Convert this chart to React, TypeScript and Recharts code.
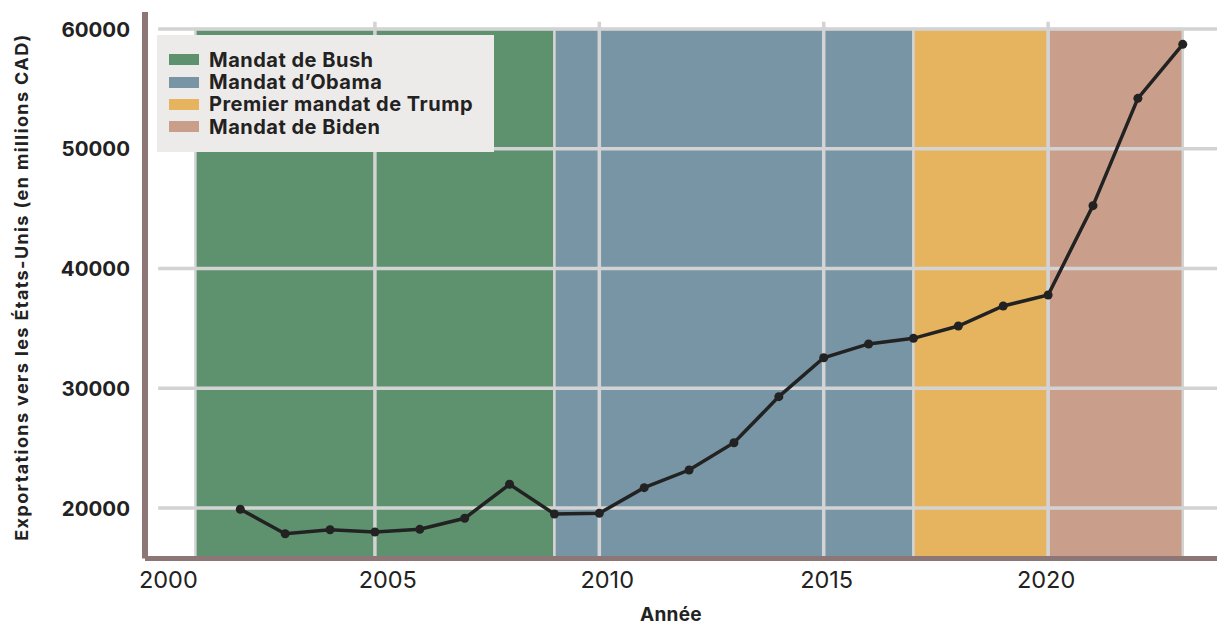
import React from "react";
import {
  ComposedChart,
  Line,
  XAxis,
  YAxis,
  ReferenceArea,
  ReferenceLine,
  Legend,
} from "recharts";

const years = [
  2002, 2003, 2004, 2005, 2006, 2007, 2008, 2009, 2010, 2011, 2012, 2013,
  2014, 2015, 2016, 2017, 2018, 2019, 2020, 2021, 2022, 2023,
];
const exportsUS = [
  19900, 17850, 18180, 18000, 18220, 19140, 21980, 19500, 19560, 21700, 23170,
  25450, 29300, 32550, 33700, 34170, 35200, 36870, 37790, 45250, 54210, 58720,
];

const mandateLabels = [
  "Mandat de Bush",
  "Mandat d\u2019Obama",
  "Premier mandat de Trump",
  "Mandat de Biden",
];
const mandateStart = [2001, 2009, 2017, 2020];
const mandateEnd = [2009, 2017, 2020, 2023];
const mandateColors = ["#5e926e", "#7895a6", "#e6b45e", "#c99f8b"];

const xTicks = [2000, 2005, 2010, 2015, 2020];
const yTicks = [20000, 30000, 40000, 50000, 60000];
const vGrid = [2005, 2010, 2015, 2020];

const data = years.map((y, i) => ({ year: y, value: exportsUS[i] }));

const FONT = "Inter, 'Liberation Sans', Arial, sans-serif";
const TEXT = "#222222";
const GRID = "#d3d3d3";
const AXIS = "#8c7676";

const X_MIN = 1999.877;
const X_MAX = 2023.763;
const Y_MIN = 15783;
const Y_MAX = 61420;

const XTick = (props: any) => {
  const { x, y, payload } = props;
  const shift = (2020 - payload.value) * 0.99 - 2;
  return (
    <text
      x={x + shift}
      y={y}
      dy={29.5}
      textAnchor="middle"
      fontFamily={FONT}
      fontSize={23.5}
      fill={TEXT}
    >
      {payload.value}
    </text>
  );
};

const YTick = (props: any) => {
  const { x, y, payload } = props;
  return (
    <text
      x={x}
      y={y}
      dy={7.5}
      textAnchor="end"
      fontFamily={FONT}
      fontSize={20.5}
      fontWeight={700}
      fill={TEXT}
    >
      {payload.value}
    </text>
  );
};

const LegendBox = () => (
  <div
    style={{
      position: "relative",
      width: 337,
      height: 117,
      background: "#edebe9",
      fontFamily: FONT,
    }}
  >
    {mandateLabels.map((label, i) => (
      <div
        key={label}
        style={{
          position: "absolute",
          left: 12,
          top: 13.5 + 22.4 * i,
          height: 22.4,
          display: "flex",
          alignItems: "center",
          whiteSpace: "nowrap",
        }}
      >
        <div
          style={{
            width: 30,
            height: 11,
            background: mandateColors[i],
            marginRight: 10,
          }}
        />
        <span
          style={{
            fontSize: 20,
            fontWeight: 700,
            letterSpacing: 0.5,
            color: TEXT,
            lineHeight: "22px",
          }}
        >
          {label}
        </span>
      </div>
    ))}
  </div>
);

export default function App() {
  return (
    <div
      style={{
        position: "absolute",
        left: 0,
        top: 0,
        width: 1217,
        height: 626,
        background: "#ffffff",
      }}
    >
      <ComposedChart
        width={1217}
        height={626}
        data={data}
        margin={{ top: 12, right: 0, left: 0, bottom: 0 }}
      >
        <XAxis
          dataKey="year"
          type="number"
          domain={[X_MIN, X_MAX]}
          ticks={xTicks}
          allowDataOverflow
          height={67.5}
          tickSize={0}
          tickMargin={0}
          axisLine={{ stroke: AXIS, strokeWidth: 5 }}
          tickLine={false}
          tick={<XTick />}
          label={{
            content: () => (
              <text
                x={671}
                y={621}
                textAnchor="middle"
                fontFamily={FONT}
                fontSize={19}
                fontWeight={700}
                letterSpacing={0.3}
                fill={TEXT}
              >
                Année
              </text>
            ),
          }}
        />
        <YAxis
          type="number"
          domain={[Y_MIN, Y_MAX]}
          ticks={yTicks}
          allowDataOverflow
          width={145}
          tickSize={0}
          tickMargin={15}
          axisLine={{ stroke: AXIS, strokeWidth: 6 }}
          tickLine={false}
          tick={<YTick />}
          label={{
            content: () => (
              <text
                x={28}
                y={287}
                transform="rotate(-90 28 287)"
                textAnchor="middle"
                fontFamily={FONT}
                fontSize={18}
                fontWeight={700}
                letterSpacing={1.4}
                fill={TEXT}
              >
                Exportations vers les États-Unis (en millions CAD)
              </text>
            ),
          }}
        />
        {mandateLabels.map((label, i) => (
          <ReferenceArea
            key={label}
            x1={mandateStart[i]}
            x2={mandateEnd[i]}
            y1={Y_MIN}
            y2={60000}
            fill={mandateColors[i]}
            fillOpacity={1}
            stroke={GRID}
            strokeWidth={2.5}
            ifOverflow="hidden"
          />
        ))}
        {yTicks.map((v) => (
          <ReferenceLine
            key={"h" + v}
            segment={[
              { x: 2000.17, y: v },
              { x: X_MAX, y: v },
            ]}
            stroke={GRID}
            strokeWidth={3.5}
            ifOverflow="visible"
          />
        ))}
        {vGrid.map((v) => (
          <ReferenceLine
            key={"v" + v}
            segment={[
              { x: v, y: 60600 },
              { x: v, y: Y_MIN },
            ]}
            stroke={GRID}
            strokeWidth={3.5}
            ifOverflow="visible"
          />
        ))}
        <Line
          dataKey="value"
          type="linear"
          stroke={TEXT}
          strokeWidth={3.5}
          dot={{ r: 4.5, fill: TEXT, stroke: TEXT, strokeWidth: 0 }}
          activeDot={false}
          isAnimationActive={false}
        />
        <Legend
          layout="vertical"
          align="center"
          verticalAlign="middle"
          content={() => <LegendBox />}
          wrapperStyle={{
            position: "absolute",
            left: 157,
            top: 35,
            width: 337,
            height: 117,
          }}
        />
      </ComposedChart>
    </div>
  );
}
